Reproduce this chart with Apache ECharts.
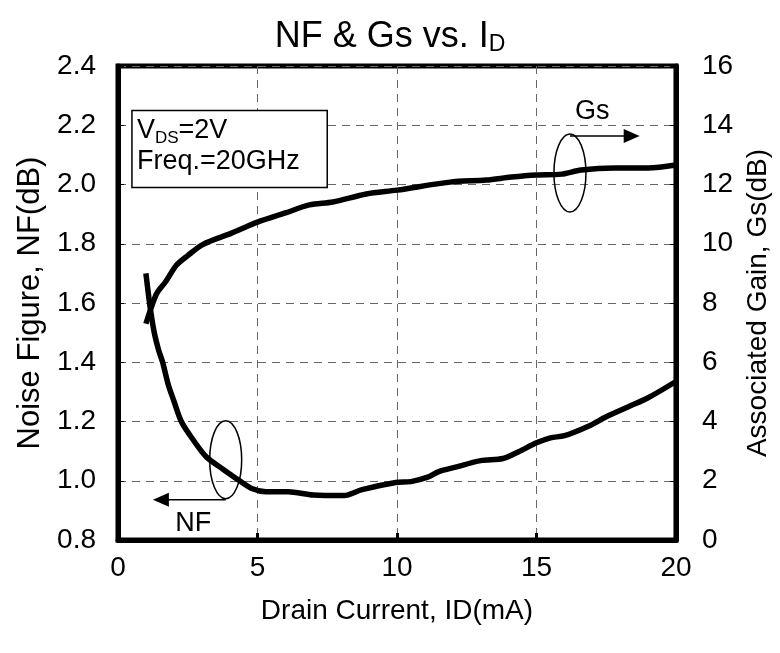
<!DOCTYPE html>
<html>
<head>
<meta charset="utf-8">
<script src="https://cdn.jsdelivr.net/npm/echarts@6/dist/echarts.min.js"></script>
<style>html,body{margin:0;padding:0;background:#fff}#c{width:780px;height:653px}</style>
</head>
<body>
<div id="c"></div>
<script>
// Noise figure vs drain current
const nfCurrent = [1.0, 1.16, 1.3, 1.46, 1.6, 1.8, 2.0, 2.27, 2.68, 3.17, 3.75, 4.36, 4.82, 5.3, 6.1, 7.0, 8.1, 8.75, 9.96, 10.5, 11.1, 11.5, 12.1, 13.0, 13.8, 14.36, 15.0, 15.5, 16.0, 16.9, 17.5, 18.3, 19.0, 20.0];
const nfValues  = [1.70, 1.58, 1.50, 1.44, 1.40, 1.325, 1.27, 1.20, 1.14, 1.08, 1.04, 1.00, 0.973, 0.963, 0.963, 0.952, 0.95, 0.97, 0.994, 0.997, 1.012, 1.031, 1.046, 1.068, 1.075, 1.098, 1.128, 1.145, 1.152, 1.186, 1.216, 1.25, 1.28, 1.335];
// Associated gain vs drain current
const gsCurrent = [1.0, 1.2, 1.4, 1.7, 2.1, 2.5, 3.05, 4.05, 5.0, 6.0, 6.86, 7.7, 8.9, 10.0, 11.9, 13.2, 14.1, 15.0, 15.9, 16.6, 17.8, 19.0, 20.0];
const gsValues  = [7.3, 7.87, 8.34, 8.71, 9.28, 9.6, 9.98, 10.35, 10.73, 11.04, 11.31, 11.41, 11.68, 11.81, 12.08, 12.15, 12.25, 12.32, 12.35, 12.49, 12.56, 12.56, 12.66];
const xTicks = [0, 5, 10, 15, 20];
const nfTicks = [0.8, 1.0, 1.2, 1.4, 1.6, 1.8, 2.0, 2.2, 2.4];
const gsTicks = [0, 2, 4, 6, 8, 10, 12, 14, 16];

const FONT = 'Liberation Sans, Arial, sans-serif';
const chart = echarts.init(document.getElementById('c'));
const pair = (xs, ys) => xs.map((x, i) => [x, ys[i]]);

chart.setOption({
  animation: false,
  backgroundColor: '#fff',
  textStyle: { fontFamily: FONT },
  title: {
    text: '{m|NF & Gs vs. I}{s|D}',
    left: 'center', top: 13,
    textStyle: {
      rich: {
        m: { fontFamily: FONT, fontSize: 36, fontWeight: 'normal', color: '#000' },
        s: { fontFamily: FONT, fontSize: 23, fontWeight: 'normal', color: '#000', verticalAlign: 'bottom', padding: [15, 0, 0, 0] }
      }
    }
  },
  grid: { left: 118, right: 102, top: 66, bottom: 113, show: true, borderColor: '#000', borderWidth: 5, backgroundColor: 'transparent' },
  xAxis: {
    type: 'value', min: xTicks[0], max: xTicks[xTicks.length - 1], interval: 5,
    name: 'Drain Current, ID(mA)', nameLocation: 'middle', nameGap: 57,
    nameTextStyle: { fontSize: 28, color: '#000', fontFamily: FONT },
    axisLine: { show: true, lineStyle: { color: '#000', width: 5 } },
    axisTick: { show: true, inside: true, length: 7, lineStyle: { color: '#000', width: 3 } },
    axisLabel: { fontSize: 28, color: '#000', margin: 14, fontFamily: FONT },
    splitLine: { show: true, lineStyle: { color: '#666', type: [8, 6], width: 1 } }
  },
  yAxis: [{
    type: 'value', min: nfTicks[0], max: nfTicks[nfTicks.length - 1], interval: 0.2, position: 'left',
    name: 'Noise Figure, NF(dB)', nameLocation: 'middle', nameGap: 71,
    nameTextStyle: { fontSize: 31, color: '#000', fontFamily: FONT },
    axisLine: { show: true, lineStyle: { color: '#000', width: 5 } },
    axisTick: { show: true, inside: true, length: 6, lineStyle: { color: '#000', width: 1 } },
    axisLabel: { fontSize: 28, color: '#000', margin: 22, fontFamily: FONT, formatter: v => v.toFixed(1) },
    splitLine: { show: true, lineStyle: { color: '#666', type: [8, 6], width: 1 } }
  }, {
    type: 'value', min: gsTicks[0], max: gsTicks[gsTicks.length - 1], interval: 2, position: 'right',
    name: 'Associated Gain, Gs(dB)', nameLocation: 'middle', nameGap: 52,
    nameTextStyle: { fontSize: 28, color: '#000', fontFamily: FONT },
    axisLine: { show: true, lineStyle: { color: '#000', width: 5 } },
    axisTick: { show: true, inside: true, length: 6, lineStyle: { color: '#000', width: 1 } },
    axisLabel: { fontSize: 28, color: '#000', margin: 26, fontFamily: FONT },
    splitLine: { show: false }
  }],
  series: [{
    name: 'NF', type: 'line', yAxisIndex: 0, data: pair(nfCurrent, nfValues),
    showSymbol: false, smooth: 0.3, lineStyle: { color: '#000', width: 5.5 }, z: 5
  }, {
    name: 'Gs', type: 'line', yAxisIndex: 1, data: pair(gsCurrent, gsValues),
    showSymbol: false, smooth: 0.3, lineStyle: { color: '#000', width: 5.5 }, z: 5
  }]
});

// annotations placed in data coordinates
const nfPt = (x, y) => chart.convertToPixel({ xAxisIndex: 0, yAxisIndex: 0 }, [x, y]);
const gsPt = (x, y) => chart.convertToPixel({ xAxisIndex: 0, yAxisIndex: 1 }, [x, y]);
const nfC = nfPt(3.86, 1.071), nfA = nfPt(3.86, 0.936), nfE = nfPt(1.25, 0.936), nfL = nfPt(2.7, 0.855);
const gsC = gsPt(16.2, 12.39), gsA = gsPt(16.2, 13.64), gsE = gsPt(18.7, 13.64), gsL = gsPt(17.0, 14.45);
const box = nfPt(0.5, 2.25), box2 = nfPt(7.5, 2.0);

chart.setOption({
  graphic: [
    { type: 'rect', shape: { x: box[0], y: box[1], width: box2[0] - box[0], height: box2[1] - box[1] + 3 },
      style: { fill: '#fff', stroke: '#000', lineWidth: 1.5 }, z: 10 },
    { type: 'text', x: box[0] + 5, y: box[1] + 5, z: 11,
      style: { text: '{a|V}{b|DS}{a|=2V}\n{a|Freq.=20GHz}', rich: {
        a: { fontFamily: FONT, fontSize: 27, color: '#000', lineHeight: 31 },
        b: { fontFamily: FONT, fontSize: 17, color: '#000', lineHeight: 31, verticalAlign: 'bottom', padding: [10, 0, 0, 0] } } } },
    { type: 'ellipse', shape: { cx: nfC[0], cy: nfC[1], rx: 16, ry: 39 }, style: { fill: 'none', stroke: '#000', lineWidth: 1.5 }, z: 10 },
    { type: 'line', shape: { x1: nfA[0], y1: nfA[1], x2: nfE[0] + 12, y2: nfE[1] }, style: { stroke: '#000', lineWidth: 1.5 }, z: 10 },
    { type: 'polygon', shape: { points: [[nfE[0], nfE[1]], [nfE[0] + 16, nfE[1] - 7], [nfE[0] + 16, nfE[1] + 7]] }, style: { fill: '#000' }, z: 10 },
    { type: 'text', x: nfL[0], y: nfL[1], z: 10, style: { text: 'NF', fontFamily: FONT, fontSize: 27, fill: '#000', align: 'center', verticalAlign: 'middle' } },
    { type: 'ellipse', shape: { cx: gsC[0], cy: gsC[1], rx: 16, ry: 39 }, style: { fill: 'none', stroke: '#000', lineWidth: 1.5 }, z: 10 },
    { type: 'line', shape: { x1: gsA[0], y1: gsA[1], x2: gsE[0] - 12, y2: gsE[1] }, style: { stroke: '#000', lineWidth: 1.5 }, z: 10 },
    { type: 'polygon', shape: { points: [[gsE[0], gsE[1]], [gsE[0] - 16, gsE[1] - 7], [gsE[0] - 16, gsE[1] + 7]] }, style: { fill: '#000' }, z: 10 },
    { type: 'text', x: gsL[0], y: gsL[1], z: 10, style: { text: 'Gs', fontFamily: FONT, fontSize: 27, fill: '#000', align: 'center', verticalAlign: 'middle' } }
  ]
});
</script>
</body>
</html>
